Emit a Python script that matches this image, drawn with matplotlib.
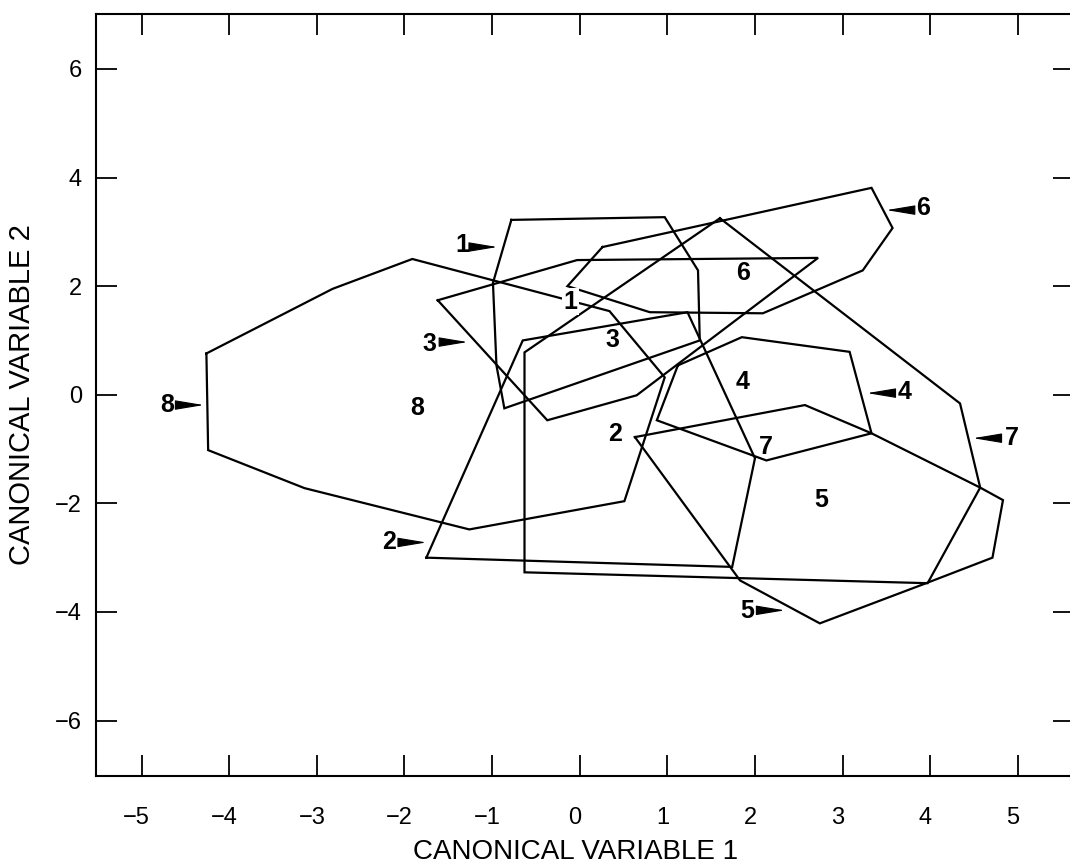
import matplotlib
matplotlib.use('Agg')
import matplotlib.pyplot as plt
from matplotlib.transforms import ScaledTranslation

plt.rcParams['font.family'] = ['Liberation Sans', 'DejaVu Sans']

# hull vertices for each group (canonical variable 1, canonical variable 2)
g1_x = [-0.78, 0.97, 1.35, 1.37, -0.86, -0.95, -0.99]
g1_y = [3.22, 3.27, 2.29, 1.00, -0.25, 0.54, 2.06]
g2_x = [-1.75, -0.65, 1.23, 2.00, 1.74]
g2_y = [-3.00, 1.00, 1.52, -1.17, -3.17]
g3_x = [-1.62, -0.37, 0.65, 2.72, -0.03]
g3_y = [1.74, -0.47, -0.01, 2.52, 2.48]
g4_x = [1.12, 1.85, 3.08, 3.33, 2.13, 0.88]
g4_y = [0.54, 1.06, 0.79, -0.71, -1.21, -0.47]
g5_x = [0.63, 2.57, 3.33, 4.57, 4.83, 4.71, 3.97, 2.74, 1.83]
g5_y = [-0.78, -0.19, -0.71, -1.71, -1.94, -3.00, -3.46, -4.21, -3.42]
g6_x = [0.26, 3.33, 3.57, 3.23, 2.09, 0.80, -0.14]
g6_y = [2.72, 3.81, 3.07, 2.29, 1.50, 1.52, 2.00]
g7_x = [1.60, 4.34, 4.57, 3.97, -0.63, -0.63]
g7_y = [3.25, -0.16, -1.71, -3.47, -3.27, 0.78]
g8_x = [-4.26, -4.24, -3.14, -1.26, 0.51, 0.97, 0.34, -1.91, -2.82]
g8_y = [0.76, -1.02, -1.72, -2.48, -1.96, 0.32, 1.54, 2.50, 1.95]

groups = ['1', '2', '3', '4', '5', '6', '7', '8']
hulls_x = [g1_x, g2_x, g3_x, g4_x, g5_x, g6_x, g7_x, g8_x]
hulls_y = [g1_y, g2_y, g3_y, g4_y, g5_y, g6_y, g7_y, g8_y]

# number placed inside each hull
inner_x = [-0.11, 0.40, 0.37, 1.86, 2.76, 1.86, 2.13, -1.86]
inner_y = [1.71, -0.73, 1.00, 0.23, -1.94, 2.24, -0.97, -0.25]

# number with a pointer to the hull outline
tag_x = [-1.34, -2.17, -1.71, 3.71, 1.91, 3.92, 4.93, -4.71]
tag_y = [2.76, -2.72, 0.93, 0.05, -3.99, 3.44, -0.80, -0.19]
tail_x = [-1.22, -2.03, -1.58, 3.56, 2.03, 3.79, 4.77, -4.57]
tip_x = [-0.94, -1.75, -1.28, 3.28, 2.34, 3.50, 4.49, -4.29]
tip_y = [2.72, -2.72, 0.97, 0.03, -3.97, 3.40, -0.80, -0.19]

fig = plt.figure(figsize=(10.7, 8.67), dpi=100)
ax = fig.add_axes([0.0897, 0.105, 0.914, 0.8794])

for xs, ys in zip(hulls_x, hulls_y):
    ax.plot(xs + xs[:1], ys + ys[:1], color='k', lw=1.6, solid_joinstyle='miter')

for i, g in enumerate(groups):
    bb = dict(fc='white', ec='none', pad=1) if g == '1' else None
    ax.text(inner_x[i], inner_y[i], g, fontsize=18, fontweight='bold',
            ha='center', va='center', bbox=bb, zorder=3)
    ax.text(tag_x[i], tag_y[i], g, fontsize=18, fontweight='bold',
            ha='center', va='center')
    ax.annotate('', xy=(tip_x[i], tip_y[i]), xytext=(tail_x[i], tip_y[i]),
                arrowprops=dict(arrowstyle='-|>,head_length=0.9,head_width=0.15',
                                mutation_scale=20, lw=0.8, fc='k', ec='k',
                                shrinkA=0, shrinkB=0))

ax.set_xlim(-5.52, 5.64)
ax.set_ylim(-7.02, 7.02)
ax.set_xticks(range(-5, 6))
ax.set_yticks(range(-6, 7, 2))
ax.tick_params(direction='in', length=15, width=1.3, top=True, right=True,
               labelsize=17, colors='k')
ax.tick_params(axis='x', pad=22)
ax.tick_params(axis='y', pad=10)
for s in ax.spines.values():
    s.set_linewidth(1.5)

# scanned labels sit a little left of their ticks
shift = ScaledTranslation(-5 / 100, 0, fig.dpi_scale_trans)
for lab in ax.get_xticklabels():
    lab.set_transform(lab.get_transform() + shift)

fig.text(576 / 1070, 1 - 852 / 867, 'CANONICAL VARIABLE 1', fontsize=20,
         ha='center', va='center')
fig.text(22 / 1070, 1 - 395 / 867, 'CANONICAL VARIABLE 2', fontsize=21,
         ha='center', va='center', rotation=90)

fig.savefig('out.png', dpi=100)
